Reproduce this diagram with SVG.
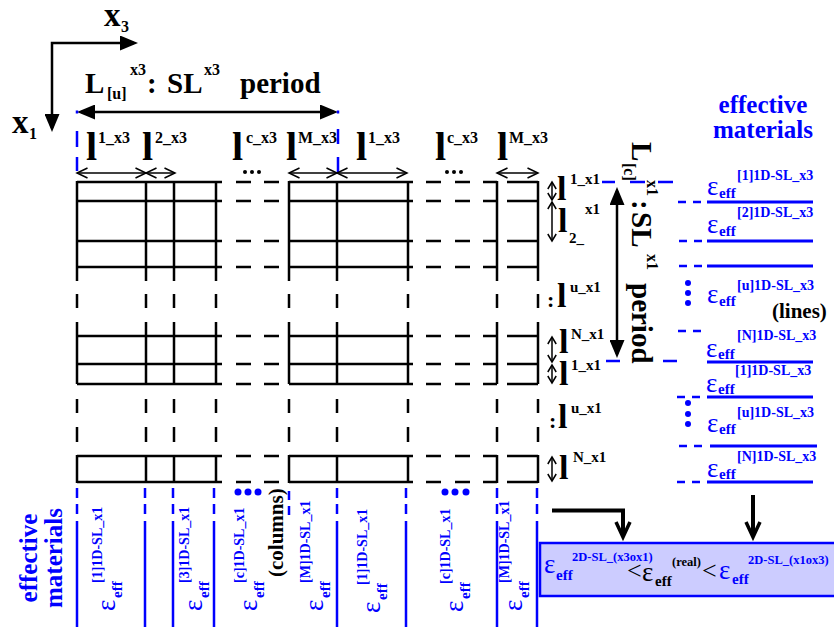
<svg xmlns="http://www.w3.org/2000/svg" width="834" height="627" viewBox="0 0 834 627">
<defs>
<style>
text{font-family:"Liberation Serif","Times New Roman",serif;font-weight:bold;fill:#000}
.bt{fill:#00f}
.big{font-size:29px}
.ax{font-size:33px}
.axs{font-size:16px}
.l{font-size:40px}
.sup{font-size:16px}
.lr{font-size:34px}
.sr{font-size:15px}
.col{font-size:22px}
.eps{font-size:27px;font-weight:normal}
.eff{font-size:15px}
.tag{font-size:14px}
.tb{font-size:12.5px}
.em{font-size:25px}
.note{font-size:21px}
.lt{font-size:26px;font-weight:normal}
.grid{stroke:#000;stroke-width:2.5;fill:none}
.blue{stroke:#00f;stroke-width:2.5;fill:none}
.bluethick{stroke:#00f;stroke-width:3;fill:none}
.dim{stroke:#000;stroke-width:1.5;fill:none}
.h{marker-start:url(#oa);marker-end:url(#oa)}
.v{marker-start:url(#os);marker-end:url(#os)}
.period{stroke:#000;stroke-width:2.5;fill:none;marker-start:url(#fh);marker-end:url(#fh)}
.thick{stroke:#000;stroke-width:4;fill:none;marker-end:url(#vh)}
</style>
<marker id="oa" viewBox="0 0 12 12" refX="11" refY="6" markerWidth="12" markerHeight="12" markerUnits="userSpaceOnUse" orient="auto-start-reverse" overflow="visible">
<path d="M0.5,1 L11,6 L0.5,11" fill="none" stroke="#000" stroke-width="1.5"/>
</marker>
<marker id="os" viewBox="0 0 8 10" refX="7.5" refY="5" markerWidth="8" markerHeight="10" markerUnits="userSpaceOnUse" orient="auto-start-reverse" overflow="visible">
<path d="M0.5,0.8 L7.5,5 L0.5,9.2" fill="none" stroke="#000" stroke-width="1.5"/>
</marker>
<marker id="fh" viewBox="0 0 18 15" refX="14" refY="7.5" markerWidth="18" markerHeight="15" markerUnits="userSpaceOnUse" orient="auto-start-reverse">
<path d="M0,0 L18,7.5 L0,15 Z" fill="#000"/>
</marker>
<marker id="vh" viewBox="0 0 18 16" refX="15" refY="8" markerWidth="18" markerHeight="16" markerUnits="userSpaceOnUse" orient="auto" overflow="visible">
<path d="M1,1 L16,8 L1,15" fill="none" stroke="#000" stroke-width="3.5"/>
</marker>
<!-- one grid row: solid cells, dashed gaps -->
<path id="row" d="M77,0H222M236,0H251M264,0H279M289,0H413M426,0H441M455,0H470M483,0H497M507,0H538"/>
<!-- one grid column: three blocks joined by dashes -->
<path id="col" d="M0,181V281M0,294V308M0,322V384M0,399V413M0,427V442M0,455V483"/>
<!-- one bottom column marker: dashes then a solid line -->
<path id="bcol" d="M0,488V498M0,504V514M0,521V627"/>
</defs>

<rect width="834" height="627" fill="#fff"/>

<!-- coordinate axes -->
<g id="axes">
<path class="period" d="M134,43 H52 V128"/>
<text><tspan class="ax" x="104" y="26">x</tspan><tspan class="axs" x="121" y="32">3</tspan></text>
<text><tspan class="ax" x="12" y="133">x</tspan><tspan class="axs" x="29" y="139">1</tspan></text>
</g>

<!-- period along x3 -->
<g id="title-x3">
<text><tspan class="big" x="85" y="93">L</tspan><tspan class="axs" x="107" y="99">[u]</tspan><tspan class="axs" x="130" y="75">x3</tspan><tspan class="big" x="147" y="93">:</tspan><tspan class="big" x="167" y="93">SL</tspan><tspan class="axs" x="204" y="75">x3</tspan><tspan class="big" x="240" y="93">period</tspan></text>
</g>

<!-- layer widths along x3 -->
<g id="labels-x3">
<text><tspan class="l" x="86" y="160">l</tspan><tspan class="sup" x="98" y="143">1_x3</tspan></text>
<text><tspan class="l" x="142" y="160">l</tspan><tspan class="sup" x="155" y="143">2_x3</tspan></text>
<text><tspan class="l" x="232" y="160">l</tspan><tspan class="sup" x="246" y="143">c_x3</tspan></text>
<text><tspan class="l" x="286" y="160">l</tspan><tspan class="sup" x="298" y="143">M_x3</tspan></text>
<text><tspan class="l" x="356" y="160">l</tspan><tspan class="sup" x="368" y="143">1_x3</tspan></text>
<text><tspan class="l" x="435" y="160">l</tspan><tspan class="sup" x="447" y="143">c_x3</tspan></text>
<text><tspan class="l" x="497" y="160">l</tspan><tspan class="sup" x="509" y="143">M_x3</tspan></text>
<g fill="#000">
<circle cx="245" cy="172" r="2"/><circle cx="252" cy="172" r="2"/><circle cx="259" cy="172" r="2"/>
<circle cx="447" cy="172" r="2"/><circle cx="454" cy="172" r="2"/><circle cx="461" cy="172" r="2"/>
</g>
</g>

<!-- layered structure -->
<g id="grid" class="grid">
<use href="#row" y="182"/><use href="#row" y="201"/><use href="#row" y="241"/><use href="#row" y="267"/>
<use href="#row" y="336"/><use href="#row" y="364"/><use href="#row" y="384"/>
<use href="#row" y="456"/><use href="#row" y="482"/>
<use href="#col" x="77"/><use href="#col" x="146"/><use href="#col" x="174"/><use href="#col" x="216"/>
<use href="#col" x="289"/><use href="#col" x="337"/><use href="#col" x="408"/>
<use href="#col" x="497"/><use href="#col" x="538"/>
</g>

<!-- layer thicknesses along x1 -->
<g id="labels-x1">
<text><tspan class="lr" x="557" y="200">l</tspan><tspan class="sr" x="570" y="184">1_x1</tspan></text>
<text><tspan class="lr" x="558" y="232">l</tspan><tspan class="sr" x="569" y="243">2_</tspan><tspan class="sr" x="585" y="214">x1</tspan></text>
<text><tspan class="col" x="547" y="307">:</tspan><tspan class="lr" x="557" y="307">l</tspan><tspan class="sr" x="570" y="292">u_x1</tspan></text>
<text><tspan class="lr" x="559" y="353">l</tspan><tspan class="sr" x="571" y="339">N_x1</tspan></text>
<text><tspan class="lr" x="559" y="385">l</tspan><tspan class="sr" x="571" y="370">1_x1</tspan></text>
<text><tspan class="col" x="549" y="428">:</tspan><tspan class="lr" x="558" y="428">l</tspan><tspan class="sr" x="571" y="413">u_x1</tspan></text>
<text><tspan class="lr" x="559" y="479">l</tspan><tspan class="sr" x="573" y="462">N_x1</tspan></text>
</g>

<!-- period along x1 -->
<g id="period-x1">
<text transform="translate(632,142) rotate(90)"><tspan class="big" x="0" y="0">L</tspan><tspan class="axs" x="21" y="8">[c]</tspan><tspan class="axs" x="38" y="-15">x1</tspan><tspan class="big" x="58" y="0">:</tspan><tspan class="big" x="70" y="0">SL</tspan><tspan class="axs" x="112" y="-15">x1</tspan><tspan class="big" x="141" y="0">period</tspan></text>
<path class="blue" d="M602,182H615M630,182H645M658,182H673M606,361H620M663,361H677"/>
</g>

<!-- effective materials of the lines -->
<g id="materials-x3">
<text class="em bt" x="763" y="113" text-anchor="middle">effective</text>
<text class="em bt" x="763" y="138" text-anchor="middle">materials</text>
<path class="bluethick" d="M707,202H813M707,241H813M707,266H813M707,362H813M707,397H813M710,446H817M707,482H813"/>
<path class="blue" d="M678,202H686M693,202H701M679,241H687M694,241H702M679,266H687M694,266H702M678,331H686M693,331H701M677,397H685M692,397H700M679,446H687M694,446H702M677,482H685M692,482H700"/>
<g fill="#00f">
<circle cx="688" cy="283" r="3"/><circle cx="688" cy="293" r="3"/><circle cx="688" cy="303" r="3"/>
<circle cx="688" cy="403" r="3"/><circle cx="688" cy="414" r="3"/><circle cx="688" cy="424" r="3"/>
</g>
<text class="bt"><tspan class="eps" x="707" y="195">ε</tspan><tspan class="eff" x="719" y="198">eff</tspan><tspan class="tag" x="737" y="180">[1]1D-SL_x3</tspan></text>
<text class="bt"><tspan class="eps" x="707" y="233">ε</tspan><tspan class="eff" x="719" y="236">eff</tspan><tspan class="tag" x="737" y="217">[2]1D-SL_x3</tspan></text>
<text class="bt"><tspan class="eps" x="707" y="303">ε</tspan><tspan class="eff" x="719" y="306">eff</tspan><tspan class="tag" x="737" y="290">[u]1D-SL_x3</tspan></text>
<text class="bt"><tspan class="eps" x="706" y="357">ε</tspan><tspan class="eff" x="718" y="359">eff</tspan><tspan class="tag" x="737" y="340">[N]1D-SL_x3</tspan></text>
<text class="bt"><tspan class="eps" x="706" y="392">ε</tspan><tspan class="eff" x="718" y="394">eff</tspan><tspan class="tag" x="735" y="375">[1]1D-SL_x3</tspan></text>
<text class="bt"><tspan class="eps" x="707" y="432">ε</tspan><tspan class="eff" x="719" y="434">eff</tspan><tspan class="tag" x="737" y="417">[u]1D-SL_x3</tspan></text>
<text class="bt"><tspan class="eps" x="707" y="477">ε</tspan><tspan class="eff" x="719" y="479">eff</tspan><tspan class="tag" x="737" y="461">[N]1D-SL_x3</tspan></text>
<text class="note" x="772" y="318">(lines)</text>
</g>

<!-- effective materials of the columns -->
<g id="materials-x1">
<g class="blue">
<use href="#bcol" x="77"/><use href="#bcol" x="145"/><use href="#bcol" x="173"/><use href="#bcol" x="214"/>
<use href="#bcol" x="337"/><use href="#bcol" x="406"/><use href="#bcol" x="497"/><use href="#bcol" x="537"/>
<path d="M289,491V500M289,506V515"/>
</g>
<g fill="#00f">
<circle cx="238" cy="492" r="3.5"/><circle cx="248" cy="492" r="3.5"/><circle cx="258" cy="492" r="3.5"/>
<circle cx="445" cy="492" r="3.5"/><circle cx="455" cy="492" r="3.5"/><circle cx="466" cy="492" r="3.5"/>
</g>
<text class="em bt" transform="translate(37,558) rotate(-90)" text-anchor="middle">effective</text>
<text class="em bt" transform="translate(62,558) rotate(-90)" text-anchor="middle">materials</text>
<text class="bt" transform="translate(115,611) rotate(-90)"><tspan class="eps" x="0" y="0">ε</tspan><tspan class="eff" x="13" y="7">eff</tspan><tspan class="tag" x="28" y="-13">[1]1D-SL_x1</tspan></text>
<text class="bt" transform="translate(202,611) rotate(-90)"><tspan class="eps" x="0" y="0">ε</tspan><tspan class="eff" x="13" y="7">eff</tspan><tspan class="tag" x="28" y="-13">[3]1D-SL_x1</tspan></text>
<text class="bt" transform="translate(257,611) rotate(-90)"><tspan class="eps" x="0" y="0">ε</tspan><tspan class="eff" x="13" y="7">eff</tspan><tspan class="tag" x="28" y="-13">[c]1D-SL_x1</tspan></text>
<text class="bt" transform="translate(323,611) rotate(-90)"><tspan class="eps" x="0" y="0">ε</tspan><tspan class="eff" x="13" y="7">eff</tspan><tspan class="tag" x="28" y="-13">[M]1D-SL_x1</tspan></text>
<text class="bt" transform="translate(380,613) rotate(-90)"><tspan class="eps" x="0" y="0">ε</tspan><tspan class="eff" x="13" y="7">eff</tspan><tspan class="tag" x="28" y="-13">[1]1D-SL_x1</tspan></text>
<text class="bt" transform="translate(463,612) rotate(-90)"><tspan class="eps" x="0" y="0">ε</tspan><tspan class="eff" x="13" y="7">eff</tspan><tspan class="tag" x="28" y="-13">[c]1D-SL_x1</tspan></text>
<text class="bt" transform="translate(522,611) rotate(-90)"><tspan class="eps" x="0" y="0">ε</tspan><tspan class="eff" x="13" y="7">eff</tspan><tspan class="tag" x="28" y="-13">[M]1D-SL_x1</tspan></text>
<text class="note" transform="translate(283,577) rotate(-90)">(columns)</text>
</g>

<!-- bounds of the 2D superlattice permittivity -->
<g id="result">
<rect x="540" y="543" width="300" height="53" fill="#ccccff" stroke="#00f" stroke-width="2.5"/>
<text><tspan class="eps bt" x="544" y="573">ε</tspan><tspan class="eff bt" x="556" y="580">eff</tspan><tspan class="tb bt" x="572" y="561">2D-SL_(x3ox1)</tspan><tspan class="lt" x="627" y="579">&lt;</tspan><tspan class="eps" x="642" y="581">ε</tspan><tspan class="eff" x="655" y="586">eff</tspan><tspan class="tb" x="672" y="566">(real)</tspan><tspan class="lt" x="702" y="579">&lt;</tspan><tspan class="eps bt" x="719" y="579">ε</tspan><tspan class="eff bt" x="732" y="584">eff</tspan><tspan class="tb bt" x="748" y="564">2D-SL_(x1ox3)</tspan></text>
</g>

<g id="connectors">
<!-- period arrows -->
<path class="period" d="M81,112 H334"/>
<path class="period" d="M617,191 V354"/>
<path class="blue" d="M77,110.5V113.5M77,131V147M77,157V171M338,110.5V113.5M338,129V144M338,157V172"/>
<!-- layer widths -->
<path class="dim h" d="M77,173H146"/>
<path class="dim h" d="M146,173H175"/>
<path class="dim h" d="M289,173H337"/>
<path class="dim h" d="M337,173H407"/>
<path class="dim h" d="M497,173H538"/>
<!-- layer thicknesses -->
<path class="dim v" d="M552,182V200"/>
<path class="dim v" d="M552,202V241"/>
<path class="dim v" d="M552,337V362"/>
<path class="dim v" d="M552,365V383"/>
<path class="dim v" d="M552,457V481"/>
<!-- to the bounds -->
<path class="thick" d="M552,510.5 H623 V536" stroke-linejoin="miter"/>
<path class="thick" d="M753,495 V536"/>
</g>
</svg>
